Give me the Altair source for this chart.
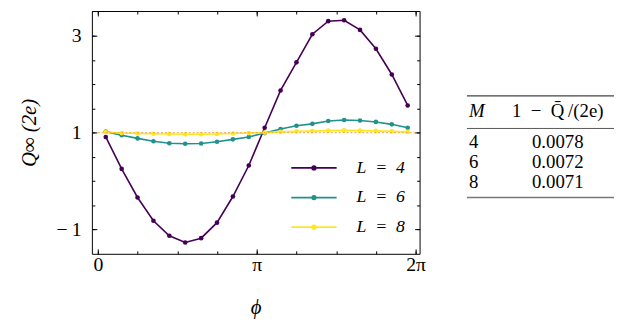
import altair as alt
import numpy as np
import pandas as pd

FONT = "Liberation Serif"

# ---------------- data ----------------
phi_over_pi = [0.05, 0.15, 0.25, 0.35, 0.45, 0.55, 0.65, 0.75, 0.85, 0.95,
               1.05, 1.15, 1.25, 1.35, 1.45, 1.55, 1.65, 1.75, 1.85, 1.95]
q_L4 = [0.91, 0.25, -0.34, -0.82, -1.13, -1.27, -1.18, -0.86, -0.32, 0.32,
        1.10, 1.87, 2.45, 3.03, 3.30, 3.32, 3.12, 2.73, 2.20, 1.56]
q_L6 = [1.02, 0.945, 0.88, 0.82, 0.78, 0.77, 0.775, 0.81, 0.86, 0.91,
        0.99, 1.075, 1.14, 1.18, 1.24, 1.26, 1.25, 1.22, 1.17, 1.10]
q_L8 = [1.01, 0.99, 0.98, 0.975, 0.97, 0.965, 0.965, 0.97, 0.98, 0.99,
        1.00, 1.015, 1.025, 1.03, 1.04, 1.045, 1.04, 1.035, 1.025, 1.015]
series_labels = ["L\u2002=\u20024", "L\u2002=\u20026", "L\u2002=\u20028"]
series_colors = ["#440154", "#21918c", "#fde725"]

ref_phi_over_pi = [0.0, 2.0]
ref_q = [1.0, 1.0]

x_major_over_pi = [0, 1, 2]
x_major_labels = ["0", "π", "2π"]
x_minor_over_pi = [0, 0.25, 0.5, 0.75, 1, 1.25, 1.5, 1.75, 2]
y_major = [-1, 1, 3]
y_major_labels = ["−\u20091", "1", "3"]
y_minor = [-1, -0.5, 0, 0.5, 1, 1.5, 2, 2.5, 3, 3.5]

table_M = ["4", "6", "8"]
table_Q = ["0.0078", "0.0072", "0.0071"]
table_header = ["M", "1\u2002−\u2002Q̄\u2009/(2e)"]

# ---------------- frames ----------------
rows = []
for lab, qs in zip(series_labels, [q_L4, q_L6, q_L8]):
    for p, q in zip(phi_over_pi, qs):
        rows.append({"phi": p * np.pi, "q": q, "L": lab})
df = pd.DataFrame(rows)
ref_df = pd.DataFrame({"phi": [p * np.pi for p in ref_phi_over_pi], "q": ref_q})

W, H = 332, 246
xs = alt.Scale(domain=[-0.117, 6.361], nice=False, zero=False)
ys = alt.Scale(domain=[-1.503, 3.51], nice=False, zero=False)

x_major = [v * np.pi for v in x_major_over_pi]
x_minor = [v * np.pi for v in x_minor_over_pi]
x_label_expr = " : ".join(
    [f"abs(datum.value - {v}) < 0.01 ? '{t}'" for v, t in zip(x_major, x_major_labels)]
) + " : ''"
y_label_expr = " : ".join(
    [f"abs(datum.value - ({v})) < 0.01 ? '{t}'" for v, t in zip(y_major, y_major_labels)]
) + " : ''"

SYMBOL = "M-3.83,0L3.83,0M-0.3,0A0.3,0.3,0,1,1,0.3,0A0.3,0.3,0,1,1,-0.3,0Z"


def make_legend():
    return alt.Legend(
        orient="none", legendX=216, legendY=150, title=None, padding=0,
        symbolType=SYMBOL, symbolSize=144, symbolStrokeWidth=1.8,
        symbolOpacity=1,
        labelFont=FONT, labelFontSize=18, labelFontStyle="italic",
        labelColor="black", labelOffset=34, rowPadding=12,
    )


def series_scale():
    return alt.Scale(domain=series_labels, range=series_colors)


lines = alt.Chart(df).mark_line(strokeWidth=1.6).encode(
    x=alt.X("phi:Q", scale=xs, axis=alt.Axis(
        orient="bottom", values=x_major, labelExpr=x_label_expr, ticks=False,
        tickSize=0, domain=False, grid=False, labelPadding=1,
        title="ϕ", titlePadding=22, titleFontStyle="italic")),
    y=alt.Y("q:Q", scale=ys, axis=alt.Axis(
        orient="left", values=y_major, labelExpr=y_label_expr, ticks=False, tickSize=0,
        domain=False, grid=False, labelPadding=11,
        title="Q∞ (2e)", titlePadding=17, titleFontStyle="italic")),
    stroke=alt.Stroke("L:N", scale=series_scale(), legend=make_legend()),
    detail="L:N",
)

points = alt.Chart(df).mark_circle(size=22, opacity=1).encode(
    x=alt.X("phi:Q", scale=xs, axis=None),
    y=alt.Y("q:Q", scale=ys, axis=None),
    fill=alt.Fill("L:N", scale=series_scale(), legend=make_legend()),
)

ref = alt.Chart(ref_df).mark_line(color="#f2a93b", strokeWidth=1.2, strokeDash=[2, 2], opacity=0.85).encode(
    x=alt.X("phi:Q", scale=xs, axis=None),
    y=alt.Y("q:Q", scale=ys, axis=None),
)


def tick_axis(orient, values, size, offset):
    return alt.Axis(orient=orient, values=values, tickSize=size, offset=offset,
                    labels=False, domain=False, grid=False, title=None,
                    ticks=True, tickColor="black", tickWidth=1)


def tick_layer(xo, yo, xv, yv, size):
    return alt.Chart(df).mark_point(opacity=0, size=1).encode(
        x=alt.X("phi:Q", scale=xs, axis=tick_axis(xo, xv, size, -H)),
        y=alt.Y("q:Q", scale=ys, axis=tick_axis(yo, yv, size, -W)),
    )


main = alt.layer(
    lines, points, ref,
    tick_layer("top", "right", x_minor, y_minor, 3),
    tick_layer("top", "right", x_major, y_major, 5),
    tick_layer("bottom", "left", x_minor, y_minor, 3),
    tick_layer("bottom", "left", x_major, y_major, 5),
).resolve_axis(x="independent", y="independent").properties(width=W, height=H)

# ---------------- table ----------------
tab_df = pd.DataFrame({"row": [1, 2, 3], "M": table_M, "Q": table_Q})
hdr_df = pd.DataFrame({"M": [table_header[0]], "Q": [table_header[1]]})
tx = alt.Scale(domain=[0, 1], range=[4, 94])
ty = alt.Scale(domain=[-5.65, 6.65], reverse=True, nice=False, zero=False)

txt = dict(font=FONT, fontSize=19, color="black", baseline="middle")
col0 = alt.Chart(tab_df).mark_text(align="left", **txt).encode(
    x=alt.X(datum=0, scale=tx, axis=None), y=alt.Y("row:Q", scale=ty, axis=None), text="M:N")
col1 = alt.Chart(tab_df).mark_text(align="center", **txt).encode(
    x=alt.X(datum=1, scale=tx, axis=None), y=alt.Y("row:Q", scale=ty, axis=None), text="Q:N")
hdr0 = alt.Chart(hdr_df).mark_text(align="left", fontStyle="italic", **txt).encode(
    x=alt.X(datum=0, scale=tx, axis=None), y=alt.Y(datum=-0.6, scale=ty, axis=None), text="M:N")
hdr1 = alt.Chart(hdr_df).mark_text(align="center", **txt).encode(
    x=alt.X(datum=1, scale=tx, axis=None), y=alt.Y(datum=-0.6, scale=ty, axis=None), text="Q:N")


def trule(r, w, c):
    return alt.Chart(hdr_df).mark_rule(strokeWidth=w, color=c).encode(
        y=alt.Y(datum=r, scale=ty, axis=None), x=alt.value(2), x2=alt.value(151))


table = alt.layer(
    trule(-1.35, 1.4, "#444"), trule(0.3, 0.9, "#444"), trule(3.8, 1.6, "#777"),
    col0, col1, hdr0, hdr1,
).properties(width=150, height=H, view=alt.ViewBackground(strokeOpacity=0))

chart = alt.hconcat(main, table, spacing=39).configure(
    padding={"left": 10, "top": 0, "right": 0, "bottom": 0},
    background="white",
).configure_view(stroke="black", strokeWidth=1).configure_axis(
    labelFont=FONT, labelFontSize=20, labelColor="black",
    titleFont=FONT, titleFontSize=21, titleFontWeight="normal", titleColor="black",
)

chart.save("out.html", embed_options={"renderer": "svg", "actions": False})
